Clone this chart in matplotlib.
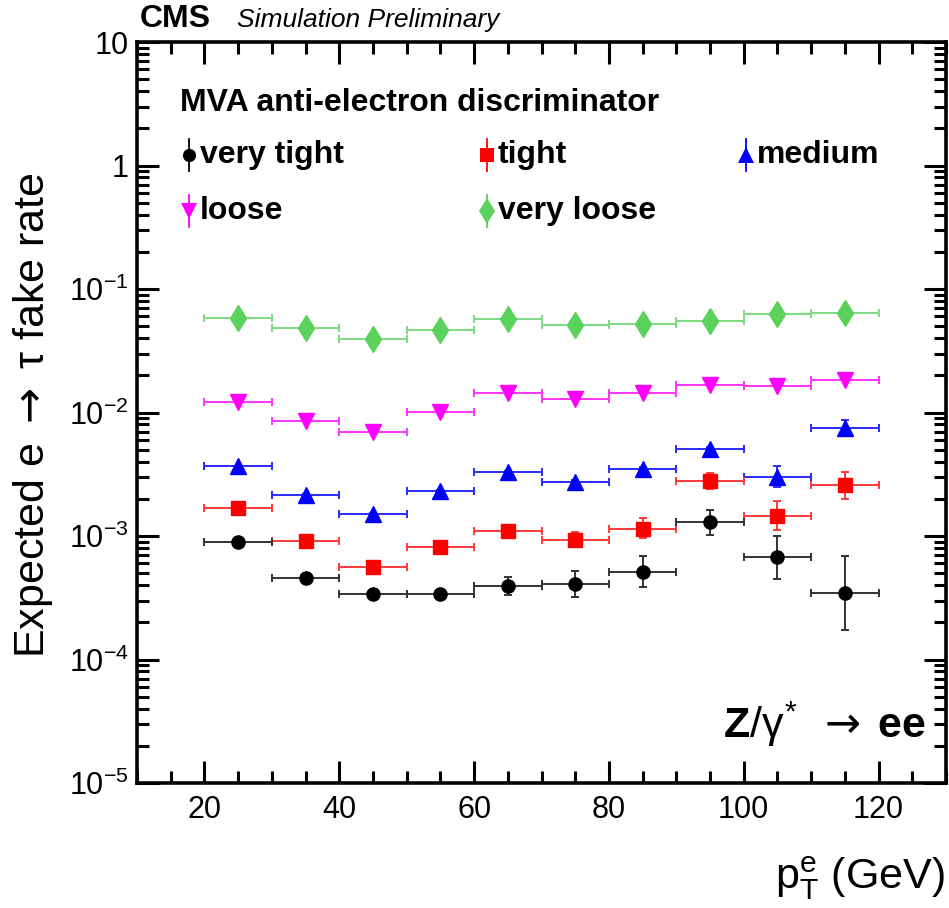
import numpy as np
import matplotlib
matplotlib.use("agg")
import matplotlib.pyplot as plt
from matplotlib.ticker import FixedLocator, MultipleLocator, LogLocator, NullFormatter, FuncFormatter

plt.rcParams['font.family'] = ['Liberation Sans', 'DejaVu Sans']
plt.rcParams['mathtext.fontset'] = 'custom'
plt.rcParams['mathtext.rm'] = 'Liberation Sans'
plt.rcParams['mathtext.it'] = 'Liberation Sans'
plt.rcParams['mathtext.bf'] = 'Liberation Sans:bold'
plt.rcParams['mathtext.sf'] = 'DejaVu Sans'

# pT bin centres and half widths (GeV)
pt = [25, 35, 45, 55, 65, 75, 85, 95, 105, 115]
pt_halfwidth = [5] * 10

# fake rates per working point
very_tight = [9.0e-4, 4.6e-4, 3.41e-4, 3.41e-4, 3.94e-4, 4.08e-4, 5.14e-4, 1.29e-3, 6.76e-4, 3.45e-4]
very_tight_lo = [2e-5, 2e-5, 1.5e-5, 1.5e-5, 0.61e-4, 0.87e-4, 1.27e-4, 0.28e-3, 2.27e-4, 1.72e-4]
very_tight_hi = [2e-5, 2e-5, 1.5e-5, 1.5e-5, 0.72e-4, 1.10e-4, 1.72e-4, 0.33e-3, 3.31e-4, 3.44e-4]

tight = [1.67e-3, 9.06e-4, 5.57e-4, 8.15e-4, 1.10e-3, 9.35e-4, 1.15e-3, 2.77e-3, 1.45e-3, 2.58e-3]
tight_lo = [3e-5, 2e-5, 1.5e-5, 2e-5, 4e-5, 1.2e-4, 1.9e-4, 0.39e-3, 0.34e-3, 0.60e-3]
tight_hi = [3e-5, 2e-5, 1.5e-5, 2e-5, 4e-5, 1.4e-4, 2.4e-4, 0.47e-3, 0.47e-3, 0.74e-3]

medium = [3.67e-3, 2.15e-3, 1.50e-3, 2.30e-3, 3.32e-3, 2.76e-3, 3.49e-3, 5.10e-3, 3.01e-3, 7.50e-3]
medium_lo = [5e-5, 4e-5, 3e-5, 4e-5, 6e-5, 6e-5, 1e-4, 1.5e-4, 0.53e-3, 1.1e-3]
medium_hi = [5e-5, 4e-5, 3e-5, 4e-5, 6e-5, 6e-5, 1e-4, 1.5e-4, 0.66e-3, 1.2e-3]

loose = [1.205e-2, 8.55e-3, 6.92e-3, 1.01e-2, 1.44e-2, 1.28e-2, 1.44e-2, 1.67e-2, 1.63e-2, 1.84e-2]
very_loose = [5.86e-2, 4.86e-2, 3.91e-2, 4.65e-2, 5.68e-2, 5.10e-2, 5.23e-2, 5.46e-2, 6.26e-2, 6.34e-2]

fig = plt.figure(figsize=(9.49, 9.08), dpi=100)
ax = fig.add_axes([137/949, 1 - 783/908, 809/949, 741/908])

def draw(vals, lo, hi, color, ecolor, marker, ms):
    ax.errorbar(pt, vals, xerr=pt_halfwidth, yerr=[lo, hi], fmt=marker, color=color, mec=color,
                ecolor=ecolor, ms=ms, elinewidth=1.4, capsize=3, capthick=1.4, zorder=3)

zeros = [0] * 10
draw(very_loose, zeros, zeros, '#5bd25b', '#7edc7e', 'd', 13)
draw(loose, zeros, zeros, '#ff00ff', '#ff33ff', 'v', 11)
draw(medium, medium_lo, medium_hi, '#0000ff', '#2a2aff', '^', 11)
draw(tight, tight_lo, tight_hi, '#ff0000', '#ff3a3a', 's', 9.5)
draw(very_tight, very_tight_lo, very_tight_hi, 'black', '#333333', 'o', 9.5)

ax.set_yscale('log')
ax.set_xlim(10, 130)
ax.set_ylim(1e-5, 10)

ax.xaxis.set_major_locator(FixedLocator([20, 40, 60, 80, 100, 120]))
ax.xaxis.set_minor_locator(MultipleLocator(5))
ax.yaxis.set_major_locator(LogLocator(base=10, numticks=20))
ax.yaxis.set_minor_locator(LogLocator(base=10, subs=np.arange(2, 10), numticks=20))
ax.yaxis.set_minor_formatter(NullFormatter())

def ylab(v, pos):
    e = int(round(np.log10(v)))
    if e == 0:
        return '1'
    if e == 1:
        return '10'
    return r'$10^{%d}$' % e
ax.yaxis.set_major_formatter(FuncFormatter(ylab))

ax.tick_params(which='both', direction='in', top=True, right=True, width=2.2, labelsize=22)
ax.tick_params(which='major', length=16)
ax.tick_params(which='minor', length=8.5)
ax.tick_params(axis='x', which='major', pad=9)
ax.tick_params(axis='y', which='major', pad=6)
for s in ax.spines.values():
    s.set_linewidth(2.6)

# legend drawn by hand to follow the ROOT layout
def fx(px):
    return (px - 137) / 809
def fy(py):
    return (783 - py) / 741

ax.text(fx(180), fy(103), 'MVA anti-electron discriminator', transform=ax.transAxes,
        fontsize=23, fontweight='bold', va='center', ha='left')
entries = [
    ('very tight', 'o', 'black', 9.5, 189, 155),
    ('tight', 's', '#ff0000', 9.5, 487, 155),
    ('medium', '^', '#0000ff', 11, 746, 155),
    ('loose', 'v', '#ff00ff', 11, 189, 211),
    ('very loose', 'd', '#5bd25b', 13, 487, 211),
]
for label, m, c, ms, px, py in entries:
    ax.plot([fx(px), fx(px)], [fy(py - 16), fy(py + 16)], color=c, lw=1.3, transform=ax.transAxes)
    ax.plot([fx(px)], [fy(py)], marker=m, color=c, ms=ms, mew=0, transform=ax.transAxes)
    ax.text(fx(px + 11), fy(py), label, transform=ax.transAxes, fontsize=23,
            fontweight='bold', va='center', ha='left')

ax.text(fx(926), fy(738), r'$\mathbf{Z}/\gamma^{*}\;\;\mathsf{\rightarrow}\;\mathbf{ee}$', transform=ax.transAxes,
        fontsize=31, ha='right', va='baseline')

fig.text(140/949, 1 - 27/908, 'CMS', fontsize=23, fontweight='bold', va='baseline', ha='left')
fig.text(237/949, 1 - 27/908, 'Simulation Preliminary', fontsize=19, style='italic', va='baseline', ha='left')

fig.text(945/949, 1 - 889/908, r'$\mathrm{p}_{\mathrm{T}}^{\mathrm{e}}$ (GeV)', fontsize=31, ha='right', va='baseline')
fig.text(33/949, 1 - 415/908, r'Expected e $\mathsf{\rightarrow}$ $\tau$ fake rate', fontsize=31,
         rotation=90, ha='center', va='center')

fig.savefig('out.png', dpi=100)
